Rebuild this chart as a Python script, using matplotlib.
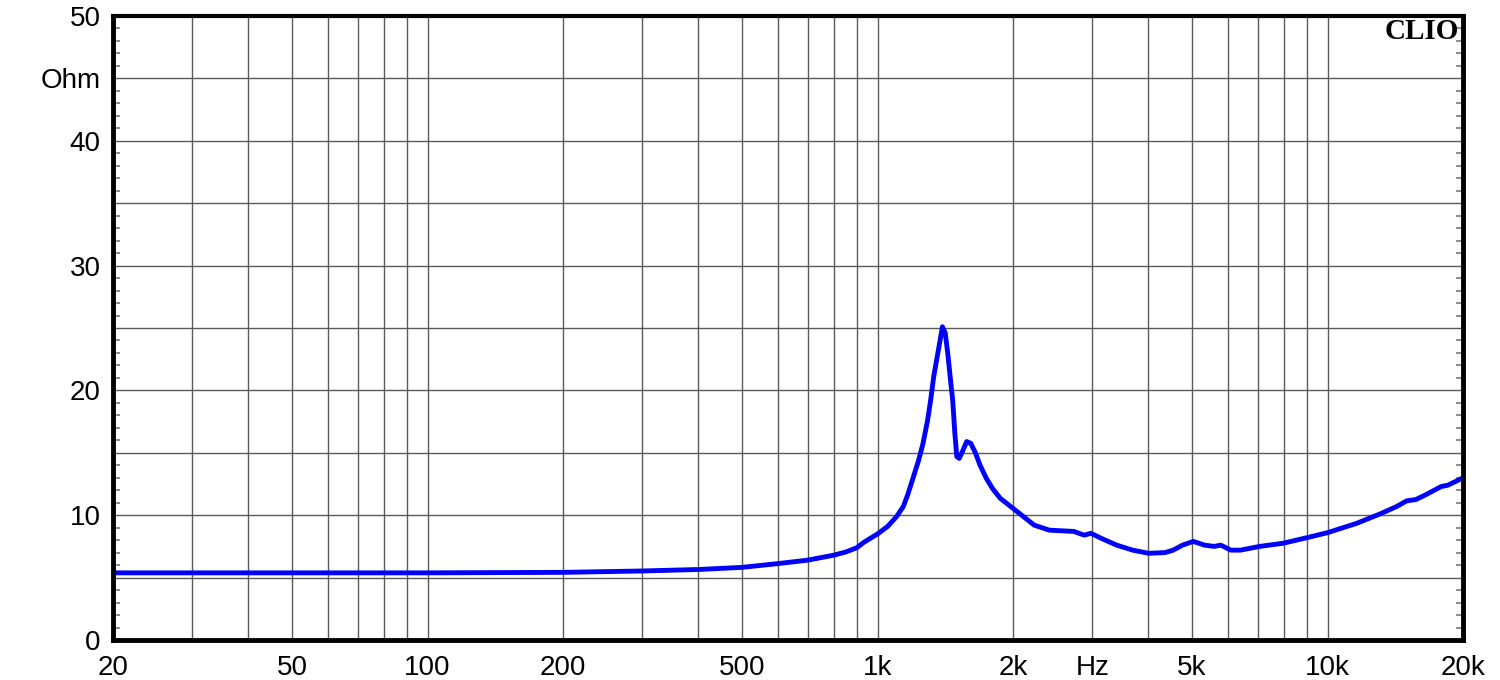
import matplotlib
matplotlib.use("Agg")
import matplotlib.pyplot as plt
from matplotlib.ticker import FixedLocator, NullFormatter

# Data (frequency in Hz, impedance in Ohm)
freq_hz = [20, 30, 50, 100, 200, 300, 400, 500, 600, 700, 800, 850, 900, 930,
           1000, 1053, 1103, 1141, 1166, 1195, 1234, 1262, 1292, 1312, 1333,
           1377, 1394, 1414, 1432, 1450, 1469, 1485, 1500, 1519, 1544, 1578,
           1612, 1650, 1690, 1745, 1800, 1874, 2000, 2230, 2410, 2730, 2880,
           2980, 3140, 3400, 3690, 4000, 4350, 4540, 4760, 5030, 5330, 5600,
           5790, 6100, 6400, 7070, 7960, 9000, 10000, 11610, 13080, 14250,
           14990, 15700, 16450, 17900, 18500, 19500, 20000]
impedance_ohm = [5.38, 5.38, 5.38, 5.38, 5.42, 5.53, 5.65, 5.82, 6.12, 6.4, 6.8,
                 7.05, 7.4, 7.8, 8.5, 9.1, 9.9, 10.7, 11.6, 12.8, 14.4, 15.75,
                 17.6, 19.2, 21.1, 24.0, 25.1, 24.6, 23.0, 21.1, 19.2, 16.6,
                 14.7, 14.55, 15.1, 15.9, 15.75, 15.0, 14.0, 12.95, 12.15, 11.35,
                 10.55, 9.2, 8.8, 8.7, 8.4, 8.55, 8.15, 7.6, 7.2, 6.95, 7.0,
                 7.2, 7.6, 7.9, 7.6, 7.5, 7.6, 7.2, 7.2, 7.5, 7.75, 8.2, 8.6,
                 9.35, 10.1, 10.7, 11.15, 11.25, 11.6, 12.3, 12.4, 12.8, 13.0]

x_tick_values = [20, 50, 100, 200, 500, 1000, 2000, 3000, 5000, 10000, 20000]
x_tick_labels = ["20", "50", "100", "200", "500", "1k", "2k", "Hz", "5k", "10k", "20k"]
y_tick_values = [0, 10, 20, 30, 40, 45, 50]
y_tick_labels = ["0", "10", "20", "30", "40", "Ohm", "50"]

plt.rcParams['font.family'] = ['Liberation Sans', 'DejaVu Sans']

fig = plt.figure(figsize=(15, 6.8), dpi=100)
ax = fig.add_axes([113/1500, 1 - 640/680, 1350/1500, 624/680])

ax.set_xscale('log')
ax.set_xlim(20, 20000)
ax.set_ylim(0, 50)

# grid: vertical at all log positions, horizontal every 5
vgrid = []
for dec in [10, 100, 1000, 10000]:
    for m in range(1, 10):
        v = dec * m
        if 20 < v < 20000:
            vgrid.append(v)
for v in vgrid:
    ax.axvline(v, color='#5a5a5a', lw=1.0, zorder=1)
for h in range(5, 50, 5):
    ax.axhline(h, color='#5a5a5a', lw=1.0, zorder=1)

ax.plot(freq_hz, impedance_ohm, color='#0000ff', lw=3.5, zorder=3,
        solid_joinstyle='round', solid_capstyle='round')

ax.xaxis.set_major_locator(FixedLocator(x_tick_values))
ax.set_xticklabels(x_tick_labels)
ax.xaxis.set_minor_locator(FixedLocator([]))
ax.xaxis.set_minor_formatter(NullFormatter())
ax.tick_params(axis='x', which='major', length=0, pad=11, labelsize=20,
               labelcolor='black')

ax.yaxis.set_major_locator(FixedLocator(y_tick_values))
ax.set_yticklabels(y_tick_labels)
minor_y = [v for v in range(1, 50) if v % 5 != 0]
ax.yaxis.set_minor_locator(FixedLocator(minor_y))
ax.tick_params(axis='y', which='major', length=0, pad=9, labelsize=20)
ax.tick_params(axis='y', which='minor', direction='in', length=5, width=1.2,
               color='#7a7a7a', left=True, right=True)

for side, lw in [('left', 3.5), ('bottom', 3.5), ('right', 3.5), ('top', 3.0)]:
    ax.spines[side].set_linewidth(lw)
    ax.spines[side].set_color('black')
    ax.spines[side].set_zorder(5)

ax.text(0.997, 0.997, "CLIO", transform=ax.transAxes, ha='right', va='top',
        fontsize=21, fontweight='bold', family=['Liberation Serif', 'DejaVu Serif'],
        zorder=6)

fig.savefig("out.png", dpi=100)
